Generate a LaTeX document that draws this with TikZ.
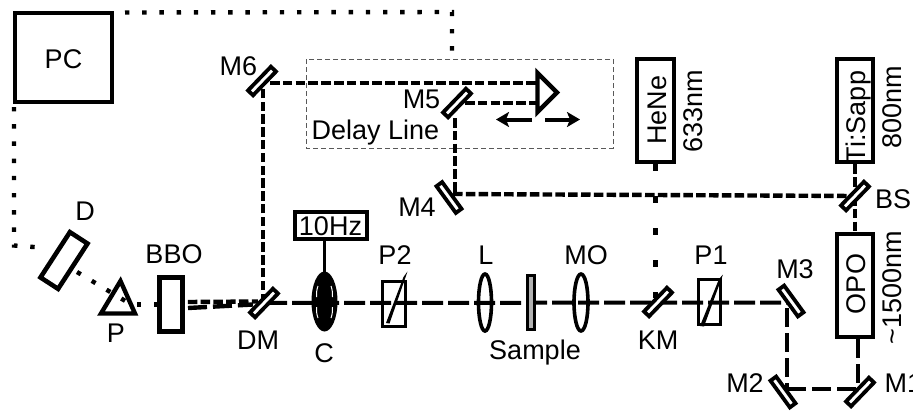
\documentclass[tikz,border=0pt]{standalone}
\usepackage{fontspec}
\setmainfont{Liberation Sans}
\usetikzlibrary{arrows.meta,backgrounds}
\tikzset{
  x=1pt,y=-1pt,
  lbl/.style={font=\fontsize{27}{30}\selectfont,anchor=base,inner sep=0pt,text=black},
  vlbl/.style={lbl,rotate=90},
  mirror/.style={draw=black,fill=white,line width=3.8pt,minimum width=33pt,minimum height=7pt,inner sep=0pt,shape=rectangle},
  box/.style={draw=black,line width=4.6pt,inner sep=0pt,shape=rectangle},
  thinbox/.style={draw=black,line width=4pt,inner sep=0pt,shape=rectangle},
  optic/.style={line width=3.6pt},
  dots/.style={line width=4.4pt,dash pattern=on 4.4pt off 12.8pt},
  refdash/.style={line width=4.4pt,dash pattern=on 9.5pt off 3.3pt},
  mainbeam/.style={line width=4pt,dash pattern=on 21pt off 5pt},
  secdash/.style={line width=4pt,dash pattern=on 19pt off 6pt},
  hebeam/.style={line width=4.4pt,dash pattern=on 7pt off 25pt},
}
\begin{document}
\begin{tikzpicture}
\useasboundingbox (0,0) rectangle (913,410);
% boxes
\node[box,minimum width=97pt,minimum height=89pt] (pc) at (63.5,57.5) {};
\node[box,minimum width=23pt,minimum height=54pt] (bbo) at (171,304.5) {};
\node[box,minimum width=21pt,minimum height=54pt,rotate=-33] (d) at (64,260.5) {};
\node[box,minimum width=37pt,minimum height=103pt] (hene) at (655.5,110.5) {};
\node[box,minimum width=36pt,minimum height=103pt] (ti) at (855,110.5) {};
\node[box,minimum width=36pt,minimum height=103pt] (opo) at (855,285.5) {};
\node[thinbox,minimum width=72pt,minimum height=27pt] (hz) at (330.5,225) {};
% mirrors
\node[mirror,rotate=46] (m6) at (262,81) {};
\node[mirror,rotate=46] (m5) at (457,103) {};
\node[mirror,rotate=-54] (m4) at (449,197.5) {};
\node[mirror,rotate=46] (bs) at (855,196) {};
\node[mirror,rotate=46] (dm) at (264,303) {};
\node[mirror,rotate=46] (km) at (658,302) {};
\node[mirror,rotate=-54] (m3) at (791,301) {};
\node[mirror,rotate=-54] (m2) at (783,392) {};
\node[mirror,rotate=46] (m1) at (860,392) {};
% sample, polarizers, lenses
\node[draw=black,fill=black!30,line width=3.6pt,minimum width=7pt,minimum height=54pt,inner sep=0pt,shape=rectangle] (sample) at (531,302.5) {};
\draw[optic] (382.5,281.5) rectangle (405.5,326.5);
\draw[optic] (698.5,279.5) rectangle (720.5,324.5);
\fill (386,323) -- (389.5,323.5) -- (407.5,271.5) -- (403.5,277) -- cycle;
\fill (700,326) -- (704,326.5) -- (723,274.5) -- (719,279) -- cycle;
\draw[optic] (485,302.5) ellipse (6.5 and 28.5);
\draw[optic] (581,302.5) ellipse (7 and 28.5);
% prism
\draw[line width=4.4pt,line join=miter] (120.5,281) -- (135,313.5) -- (101,313.5) -- cycle;
% chopper
\fill (324.5,301.5) ellipse (13 and 30);
\draw[white,line width=1pt] (318,286) .. controls (316.5,290) and (316.5,293) .. (316.5,297);
\draw[white,line width=1pt] (318,318) .. controls (316.5,314) and (316.5,311) .. (316.5,307);
\draw[white,line width=1pt] (331,286) .. controls (332.5,290) and (332.5,293) .. (332.5,297);
\draw[white,line width=1pt] (331,318) .. controls (332.5,314) and (332.5,311) .. (332.5,307);
\coordinate (cho) at (324.5,272);
% retroreflector
\draw[line width=4.4pt,line join=miter] (537.5,73) -- (557,92.5) -- (537.5,112) -- cycle;
\coordinate (retroA) at (537,83);
\coordinate (retroB) at (537,103);
% connector beams
\begin{scope}[on background layer]
\draw[line width=1pt,draw=black!65,dash pattern=on 5pt off 3pt] (306,59) rectangle (613,148);
% dotted
\coordinate (dA) at (452,12);
\coordinate (dB) at (452,52);
\coordinate (dC) at (14,245.5);
\coordinate (dD) at (47,248);
\draw[dots] (125,12.5) -- (dA) -- (dB);
\draw[dots] (14,107) -- (dC) -- (dD);
\draw[dots] (77,272) -- (127,302);
\draw[dots] (137,304.5) -- (bbo.west);
\draw[hebeam] (hene.south) -- (655.5,298);
% reference arm
\draw[refdash] (dm.center) ++(-1,0) -- (263,88);
\draw[refdash] (m6.center) ++(8,2) -- (retroA);
\draw[refdash] (m5.center) ++(8,0) -- (retroB);
\draw[refdash] (455,118) -- (455,194);
\draw[refdash] (m4.center) ++(4,-3.5) -- (bs.center);
\draw[refdash] (ti.south) -- (bs.center);
\draw[refdash] (bs.center) -- (opo.north);
\draw[refdash] (bbo.east) ++(3,-2.5) -- (258,301.5);
\draw[line width=4.4pt,dash pattern=on 19pt off 6pt] (188,308) -- (253,304.5);
% main
\draw[mainbeam,dash phase=-2pt] (dm.center) -- (791,302.5);
\draw[secdash] (787,308) -- (787,389);
\draw[secdash] (787,389) -- (858,389);
\draw[secdash] (opo.south) ++(3,0) -- (858,385);
\draw[line width=2.4pt] (hz.south -| cho) -- (cho);
\end{scope}
% double arrow
\coordinate (al) at (532,119.5);
\coordinate (ar) at (545,119.5);
\draw[line width=4pt,-{Stealth[length=13pt,width=15pt,inset=3pt]}] (al) -- (496,119.5);
\draw[line width=4pt,-{Stealth[length=13pt,width=15pt,inset=3pt]}] (ar) -- (580,119.5);
% labels
\node[lbl] (tpc) at (63.5,68) {PC};
\node[lbl] (tm6) at (238.5,75) {M6};
\node[lbl] (tm5) at (421.5,108) {M5};
\node[lbl] (tdl) at (375.5,139) {Delay Line};
\node[lbl] (tm4) at (417,216) {M4};
\node[lbl] (td) at (85,220) {D};
\node[lbl] (tp) at (116,342) {P};
\node[lbl] (tbbo) at (174,263) {BBO};
\node[lbl] (tdm) at (258,349) {DM};
\node[lbl] (tc) at (324,362) {C};
\node[lbl] (thz) at (330.5,235) {10Hz};
\node[lbl] (tp2) at (395,264) {P2};
\node[lbl] (tl) at (486,264) {L};
\node[lbl] (tsa) at (535,359) {Sample};
\node[lbl] (tmo) at (586,264) {MO};
\node[lbl] (tkm) at (658,349) {KM};
\node[lbl] (tp1) at (711,264) {P1};
\node[lbl] (tm3) at (795,278) {M3};
\node[lbl] (tm2) at (745,392) {M2};
\node[lbl,anchor=base west] (tm1) at (884.5,392) {M1};
\node[lbl,anchor=base west] (tbs) at (875,208) {BS};
\node[vlbl] (the) at (666,110) {HeNe};
\node[vlbl] (t633) at (702,111) {633nm};
\node[vlbl] (tti) at (865,117) {Ti:Sapp};
\node[vlbl] (t800) at (901,107) {800nm};
\node[vlbl] (topo) at (865,284) {OPO};
\node[vlbl] (t1500) at (901,288) {\textasciitilde1500nm};
\end{tikzpicture}
\end{document}
